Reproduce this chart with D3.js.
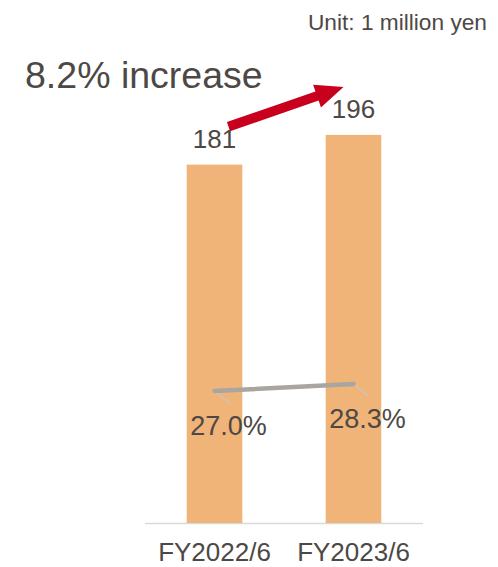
<!DOCTYPE html>
<html>
<head>
<meta charset="utf-8">
<script src="https://cdn.jsdelivr.net/npm/d3@7"></script>
<style>
  html, body { margin: 0; padding: 0; background: #ffffff; }
  svg { display: block; font-family: "Liberation Sans", Arial, sans-serif; }
</style>
</head>
<body>
<svg id="chart" width="498" height="567"></svg>
<script>
// Fiscal years and their results
const categories = ["FY2022/6", "FY2023/6"];
const values = [181, 196];          // 1 million yen
const ratios = [27.0, 28.3];        // %
const ratioLabels = ["27.0%", "28.3%"];
const growthLabel = "8.2% increase";
const unitLabel = "Unit: 1 million yen";

const textColor = "#4d4845";
const barColor = "#f0b478";
const lineColor = "#a9a5a1";
const arrowColor = "#c8001e";

const svg = d3.select("#chart");

const x = d3.scaleBand()
  .domain(categories)
  .range([145, 423])
  .paddingInner(0.6)
  .paddingOuter(0.3);

const y = d3.scaleLinear().domain([0, 200]).range([523, 127]);

// secondary scale for the ratio line
const yPct = d3.scaleLinear().domain([20, 35]).range([428.7, 347.9]);

// baseline
svg.append("line")
  .attr("x1", 145).attr("x2", 423)
  .attr("y1", y(0) + 0.5).attr("y2", y(0) + 0.5)
  .attr("stroke", "#d9d9d9").attr("stroke-width", 1.5);

// bars
svg.selectAll("rect.bar")
  .data(values)
  .join("rect")
  .attr("class", "bar")
  .attr("x", (d, i) => x(categories[i]))
  .attr("width", x.bandwidth())
  .attr("y", d => y(d))
  .attr("height", d => y(0) - y(d))
  .attr("fill", barColor);

// bar value labels
svg.selectAll("text.val")
  .data(values)
  .join("text")
  .attr("class", "val")
  .attr("x", (d, i) => x(categories[i]) + x.bandwidth() / 2)
  .attr("y", d => y(d) - 17)
  .attr("text-anchor", "middle")
  .attr("font-size", 26)
  .attr("fill", textColor)
  .text(d => d);

// category axis labels
svg.selectAll("text.cat")
  .data(categories)
  .join("text")
  .attr("class", "cat")
  .attr("x", d => x(d) + x.bandwidth() / 2)
  .attr("y", 561)
  .attr("text-anchor", "middle")
  .attr("font-size", 26)
  .attr("fill", textColor)
  .text(d => d);

// ratio line
const cx = i => x(categories[i]) + x.bandwidth() / 2;
const line = d3.line().x((d, i) => cx(i)).y(d => yPct(d));

// leader lines from points to their labels
svg.selectAll("line.leader")
  .data(ratios)
  .join("line")
  .attr("class", "leader")
  .attr("x1", (d, i) => cx(i))
  .attr("y1", d => yPct(d))
  .attr("x2", (d, i) => cx(i) + 15)
  .attr("y2", d => yPct(d) + 12)
  .attr("stroke", "#c9c6c3")
  .attr("stroke-width", 1.5);

svg.append("path")
  .datum(ratios)
  .attr("d", line)
  .attr("fill", "none")
  .attr("stroke", lineColor)
  .attr("stroke-width", 4.5)
  .attr("stroke-linecap", "round");

svg.selectAll("text.pct")
  .data(ratios)
  .join("text")
  .attr("class", "pct")
  .attr("x", (d, i) => cx(i) + 14)
  .attr("y", d => yPct(d) + 44)
  .attr("text-anchor", "middle")
  .attr("font-size", 27)
  .attr("fill", textColor)
  .text((d, i) => ratioLabels[i]);

// growth arrow between the two value labels
const ax0 = cx(0) + 14, ay0 = y(values[0]) - 38;
const ax1 = cx(1) - 10, ay1 = y(values[1]) - 48;
const len = Math.hypot(ax1 - ax0, ay1 - ay0);
const ang = Math.atan2(ay1 - ay0, ax1 - ax0) * 180 / Math.PI;
const shaft = 4.8, headW = 12, headL = 28;
svg.append("path")
  .attr("transform", `translate(${ax0},${ay0}) rotate(${ang})`)
  .attr("d", d3.line()([
    [0, -shaft], [len - headL, -shaft], [len - headL, -headW],
    [len, 0],
    [len - headL, headW], [len - headL, shaft], [0, shaft]
  ]) + "Z")
  .attr("fill", arrowColor);

// headline and unit
svg.append("text")
  .attr("x", 25).attr("y", 88)
  .attr("font-size", 37.5)
  .attr("fill", textColor)
  .text(growthLabel);

svg.append("text")
  .attr("x", 487).attr("y", 30)
  .attr("text-anchor", "end")
  .attr("font-size", 22.7)
  .attr("fill", textColor)
  .text(unitLabel);
</script>
</body>
</html>
